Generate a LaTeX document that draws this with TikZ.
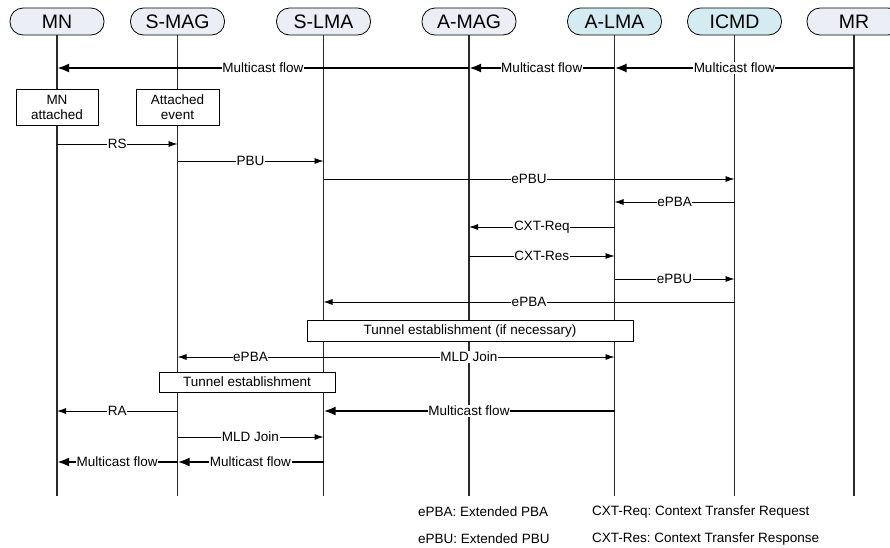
\documentclass[tikz,border=0pt]{standalone}
\usepackage{fontspec}
\setmainfont{Liberation Sans}
\usetikzlibrary{arrows.meta}
\definecolor{lav}{HTML}{ECEEF6}
\definecolor{cyanbox}{HTML}{D3EBF1}
\definecolor{lineg}{HTML}{2A2A2A}
\frenchspacing
\begin{document}
\begin{tikzpicture}[x=1pt,y=-1pt,
 head/.style={draw=black, line width=0.8pt, rounded corners=13pt, minimum width=94pt, minimum height=27pt, inner sep=0pt, font=\fontsize{19.5}{21}\selectfont},
 life/.style={draw=lineg, line width=1.1pt},
 msg/.style={draw=black, line width=0.8pt, -{Latex[length=9pt,width=6pt]}},
 flow/.style={draw=black, line width=2.4pt, -{Latex[length=12pt,width=9pt]}},
 lbl/.style={fill=white, inner sep=0.6pt, font=\fontsize{13.5}{15}\selectfont},
 evbox/.style={draw=black, line width=0.8pt, fill=white, inner sep=0pt, font=\fontsize{13.5}{15}\selectfont, align=center},
 legend/.style={anchor=west, inner sep=0pt, font=\fontsize{13.5}{15}\selectfont}]
\useasboundingbox (0,0) rectangle (890,547);
% headers
\node[head, fill=lav] (mn) at (57,21.5) {MN};
\node[head, fill=lav] (smag) at (177.5,21.5) {S-MAG};
\node[head, fill=lav] (slma) at (323.5,21.5) {S-LMA};
\node[head, fill=lav] (amag) at (469,21.5) {A-MAG};
\node[head, fill=cyanbox] (alma) at (614.5,21.5) {A-LMA};
\node[head, fill=cyanbox] (icmd) at (734.5,21.5) {ICMD};
\node[head, fill=lav] (mr) at (854,21.5) {MR};
% lifeline ends
\coordinate (mnE) at (57,496);
\coordinate (smagE) at (177.5,496);
\coordinate (slmaE) at (323.5,496);
\coordinate (amagE) at (469,496);
\coordinate (almaE) at (614.5,496);
\coordinate (icmdE) at (734.5,496);
\coordinate (mrE) at (854,496);
\foreach \n in {mn,smag,slma,amag,alma,icmd,mr}{\draw[life] (\n.south) -- (\n E);}
% row 1 multicast
\draw[flow] (mr |- 0,68) -- node[lbl]{Multicast flow} (alma |- 0,68);
\draw[flow] (alma |- 0,68) -- node[lbl]{Multicast flow} (amag |- 0,68);
\draw[flow] (amag |- 0,68) -- node[lbl]{Multicast flow} (mn |- 0,68);
% event boxes
\node[evbox, minimum width=82pt, minimum height=36pt] (mnatt) at (57,107) {MN\\attached};
\node[evbox, minimum width=83pt, minimum height=36pt] (attev) at (177.5,107) {Attached\\event};
% messages
\draw[msg] (mn |- 0,144) -- node[lbl]{RS} (smag |- 0,144);
\draw[msg] (smag |- 0,161) -- node[lbl]{PBU} (slma |- 0,161);
\draw[msg] (slma |- 0,179) -- node[lbl]{ePBU} (icmd |- 0,179);
\draw[msg] (icmd |- 0,202) -- node[lbl]{ePBA} (alma |- 0,202);
\draw[msg] (alma |- 0,227) -- node[lbl]{CXT-Req} (amag |- 0,227);
\draw[msg] (amag |- 0,256) -- node[lbl]{CXT-Res} (alma |- 0,256);
\draw[msg] (alma |- 0,279) -- node[lbl]{ePBU} (icmd |- 0,279);
\draw[msg] (icmd |- 0,302) -- node[lbl]{ePBA} (slma |- 0,302);
\node[evbox, minimum width=326pt, minimum height=21pt] (tun1) at (470,330.5) {Tunnel establishment (if necessary)};
\draw[msg] (slma |- 0,357) -- node[lbl]{ePBA} (smag |- 0,357);
\draw[msg] (slma |- 0,357) -- node[lbl]{MLD Join} (alma |- 0,357);
\node[evbox, minimum width=176pt, minimum height=20pt] (tun2) at (247,382) {Tunnel establishment};
\draw[msg] (smag |- 0,411) -- node[lbl]{RA} (mn |- 0,411);
\draw[flow] (alma |- 0,411) -- node[lbl]{Multicast flow} (slma |- 0,411);
\draw[msg] (smag |- 0,437) -- node[lbl]{MLD Join} (slma |- 0,437);
\draw[flow] (slma |- 0,462) -- node[lbl]{Multicast flow} (smag |- 0,462);
\draw[flow] (smag |- 0,462) -- node[lbl]{Multicast flow} (mn |- 0,462);
% legend
\node[legend] (l1) at (418,512) {ePBA: Extended PBA};
\node[legend] (l2) at (418,539) {ePBU: Extended PBU};
\node[legend] (l3) at (592,512) {CXT-Req: Context Transfer Request};
\node[legend] (l4) at (592,539) {CXT-Res: Context Transfer Response};
\end{tikzpicture}
\end{document}
